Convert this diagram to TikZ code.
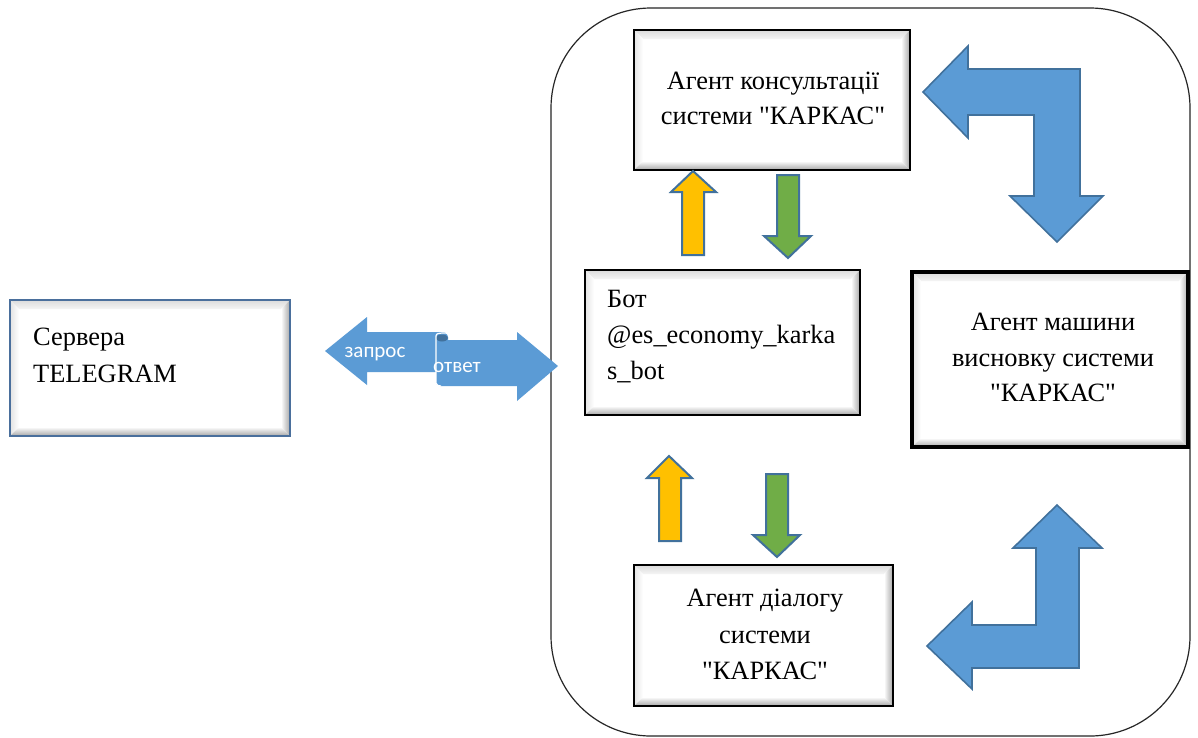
\documentclass[tikz,border=0pt]{standalone}
\usepackage{fontspec}
\newfontfamily\tnr{Liberation Serif}[Ligatures=ResetAll]
\newfontfamily\calfont{Carlito}
\usetikzlibrary{calc}
\definecolor{arrblue}{HTML}{5B9BD5}
\definecolor{arredge}{HTML}{41719C}
\definecolor{arryel}{HTML}{FFC000}
\definecolor{arrgrn}{HTML}{70AD47}
\definecolor{tgedge}{HTML}{4A6F9C}
\newcommand\bevbox[3]{%
  \shade[top color=gray!28, bottom color=gray!8] (#1.north west) -- (#1.north east) -- ($(#1.north east)+(-9,9)$) -- ($(#1.north west)+(9,9)$) -- cycle;
  \shade[left color=gray!22, right color=white] (#1.north west) -- ($(#1.north west)+(9,9)$) -- ($(#1.south west)+(9,-9)$) -- (#1.south west) -- cycle;
  \shade[left color=white, right color=gray!70] (#1.north east) -- (#1.south east) -- ($(#1.south east)+(-9,-9)$) -- ($(#1.north east)+(-9,9)$) -- cycle;
  \shade[top color=white, bottom color=gray!70] (#1.south west) -- (#1.south east) -- ($(#1.south east)+(-9,-9)$) -- ($(#1.south west)+(9,-9)$) -- cycle;
  \draw[line width=#2, #3] (#1.north west) rectangle (#1.south east);
}
\tikzset{
  boxnode/.style={rectangle, draw=none, outer sep=0pt, inner sep=0pt},
  txt/.style={font=\tnr\fontsize{26.4}{34}\selectfont, inner sep=0pt},
  lbl/.style={font=\calfont\fontsize{21}{22}\selectfont, text=white, inner sep=0pt},
  bluearrow/.style={fill=arrblue, draw=arredge, line width=1.6pt, line join=miter},
  yelarrow/.style={fill=arryel, draw=arredge, line width=2pt, line join=miter},
  grnarrow/.style={fill=arrgrn, draw=arredge, line width=2pt, line join=miter},
}
\begin{document}
\begin{tikzpicture}[x=1pt, y=-1pt]
\useasboundingbox (0,0) rectangle (1198,737);
\fill[white] (0,0) rectangle (1198,737);
% container
\draw[line width=1.2pt, black!85, rounded corners=100pt] (551,8) rectangle (1190,736);

% boxes
\node[boxnode, minimum width=280pt, minimum height=136pt] (tg) at (150,368) {};
\bevbox{tg}{2pt}{tgedge}
\node[boxnode, minimum width=276pt, minimum height=140pt] (cons) at (772,100) {};
\bevbox{cons}{2.8pt}{black}
\node[boxnode, minimum width=275pt, minimum height=145pt] (bot) at (722.5,342.5) {};
\bevbox{bot}{2.4pt}{black}
\node[boxnode, minimum width=276pt, minimum height=175pt] (mach) at (1050,359.5) {};
\bevbox{mach}{4pt}{black}
\node[boxnode, minimum width=259pt, minimum height=141pt] (dia) at (763.5,635.5) {};
\bevbox{dia}{2.8pt}{black}

% texts
\node[txt, anchor=base west] (tg1) at (33,345) {Сервера};
\node[txt, anchor=base west] (tg2) at (33,382) {TELEGRAM};
\node[txt, anchor=base] (cons1) at (773,89) {Агент консультації};
\node[txt, anchor=base] (cons2) at (773,124) {системи "КАРКАС"};
\node[txt, anchor=base west] (bot1) at (607,307) {Бот};
\node[txt, anchor=base west] (bot2) at (607,343) {@es\_economy\_karka};
\node[txt, anchor=base west] (bot3) at (607,379) {s\_bot};
\node[txt, anchor=base] (mach1) at (1053,330) {Агент машини};
\node[txt, anchor=base] (mach2) at (1053,366) {висновку системи};
\node[txt, anchor=base] (mach3) at (1053,401) {"КАРКАС"};
\node[txt, anchor=base] (dia1) at (765,606) {Агент діалогу};
\node[txt, anchor=base] (dia2) at (765,643) {системи};
\node[txt, anchor=base] (dia3) at (765,679) {"КАРКАС"};

% request / response arrows
\fill[arrblue] (325,351) -- (367,317) -- (367,332) -- (444,332) to[out=0,in=90] (448,337) -- (448,372) -- (367,372) -- (367,385) -- cycle;
\fill[arrblue] (558,366) -- (517,332) -- (517,340) -- (436,340) -- (436,383) to[out=-90,in=180] (440,386) -- (517,386) -- (517,401) -- cycle;
\fill[arredge] (442,338) ellipse (6pt and 3.5pt);
\draw[white, line width=1.2pt] (436,336) to[out=90,in=180] (442,333) -- (446,333) to[out=0,in=90] (449,337);
\draw[white, line width=1.2pt] (436,336) -- (436,383) to[out=-90,in=180] (441,386);
\node[lbl] (req) at (375,354) {запрос};
\node[lbl] (resp) at (457,367) {ответ};

% yellow/green arrows (top)
\draw[yelarrow] (693,171) -- (716,192) -- (704,192) -- (704,255) -- (682,255) -- (682,192) -- (671,192) -- cycle;
\draw[grnarrow] (788,258) -- (811,236) -- (799,236) -- (799,175) -- (777,175) -- (777,236) -- (764,236) -- cycle;
% yellow/green arrows (bottom)
\draw[yelarrow] (669,456) -- (692,478) -- (681,478) -- (681,541) -- (659,541) -- (659,478) -- (647,478) -- cycle;
\draw[grnarrow] (777,557) -- (800,535) -- (788,535) -- (788,474) -- (766,474) -- (766,535) -- (753,535) -- cycle;

% bent arrows
\draw[bluearrow] (923,92) -- (968,46) -- (968,69) -- (1080,69) -- (1080,196) -- (1103,196) -- (1057,242) -- (1010,196) -- (1034,196) -- (1034,115) -- (968,115) -- (968,138) -- cycle;
\draw[bluearrow] (927,646) -- (972,602) -- (972,625) -- (1036,625) -- (1036,548) -- (1013,548) -- (1057,505) -- (1102,548) -- (1079,548) -- (1079,668) -- (972,668) -- (972,689) -- cycle;
\end{tikzpicture}
\end{document}
